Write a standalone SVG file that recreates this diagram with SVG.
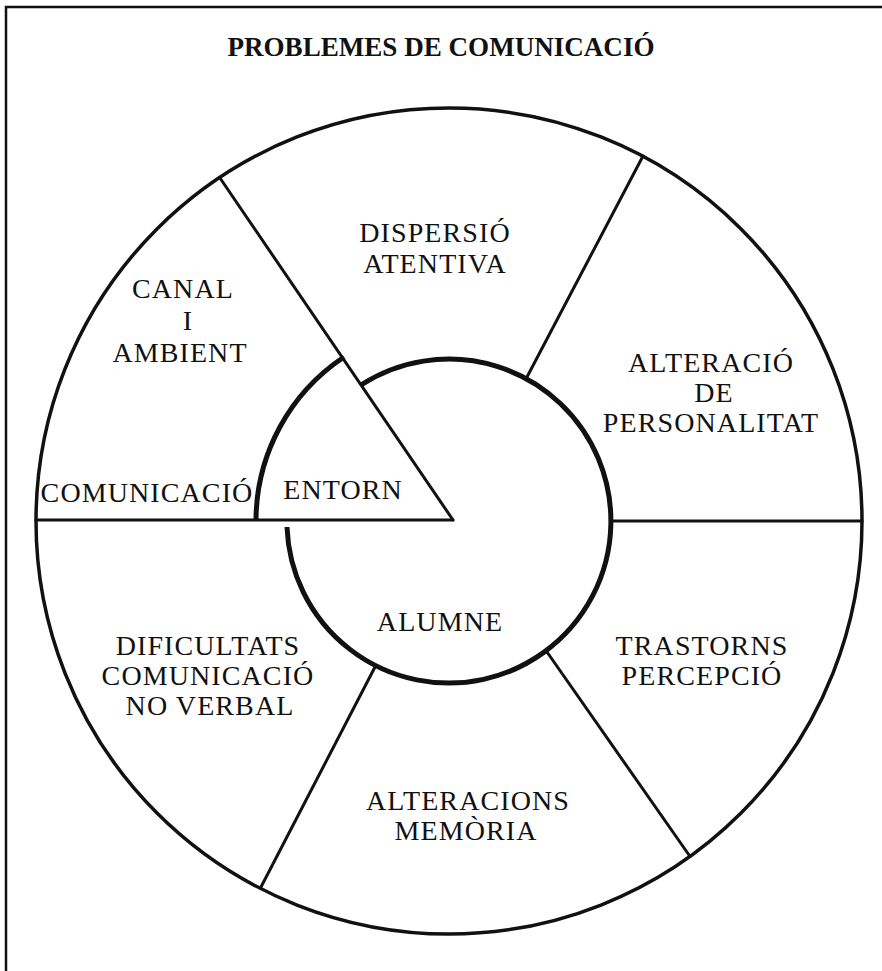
<svg xmlns="http://www.w3.org/2000/svg" width="882" height="971" viewBox="0 0 882 971">
<style>
.t{font-family:"Liberation Serif","Times New Roman",serif;font-size:28px;fill:#111;text-anchor:middle;letter-spacing:1.1px}
.title{font-family:"Liberation Serif","Times New Roman",serif;font-size:28px;font-weight:bold;fill:#111;text-anchor:middle}
.ln{stroke:#111;stroke-width:3;fill:none;stroke-linecap:round}
.thick{stroke:#111;stroke-width:5;fill:none}
.outer{stroke:#111;stroke-width:3.5;fill:none}
</style>
<rect width="882" height="971" fill="#fff"/>
<g id="frame">
<path d="M6,971 V7 H882" stroke="#111" stroke-width="2.5" fill="none"/>
</g>
<g id="title"><text class="title" x="441" y="56" textLength="427" lengthAdjust="spacingAndGlyphs">PROBLEMES DE COMUNICACIÓ</text></g>
<g id="comunicacio">
<circle class="outer" cx="449" cy="521" r="413"/>
<text class="t" x="147" y="502">COMUNICACIÓ</text>
</g>
<g id="alumne">
<path class="thick" d="M361,385 A162,162 0 1 1 287,527"/>
<text class="t" x="440" y="631">ALUMNE</text>
</g>
<g id="entorn">
<path class="thick" d="M344,357 A197,197 0 0 0 256,520"/>
<text class="t" x="343" y="499">ENTORN</text>
</g>
<g id="canal-ambient">
<text class="t" x="183" y="298">CANAL</text>
<text class="t" x="188" y="330">I</text>
<text class="t" x="180" y="362">AMBIENT</text>
</g>
<g id="dispersio">
<text class="t" x="435" y="242">DISPERSIÓ</text>
<text class="t" x="435" y="273">ATENTIVA</text>
</g>
<g id="personalitat">
<text class="t" x="711" y="372">ALTERACIÓ</text>
<text class="t" x="714" y="402">DE</text>
<text class="t" x="711" y="432">PERSONALITAT</text>
</g>
<g id="percepcio">
<text class="t" x="702" y="655">TRASTORNS</text>
<text class="t" x="702" y="685">PERCEPCIÓ</text>
</g>
<g id="memoria">
<text class="t" x="468" y="810">ALTERACIONS</text>
<text class="t" x="466" y="840">MEMÒRIA</text>
</g>
<g id="no-verbal">
<text class="t" x="208" y="655">DIFICULTATS</text>
<text class="t" x="208" y="685">COMUNICACIÓ</text>
<text class="t" x="210" y="715">NO VERBAL</text>
</g>
<g id="connectors">
<line class="ln" x1="36" y1="520" x2="453" y2="520"/>
<line class="ln" x1="453" y1="520" x2="220" y2="178"/>
<line class="ln" x1="527" y1="377" x2="643" y2="156"/>
<line class="ln" x1="611" y1="521" x2="862" y2="521"/>
<line class="ln" x1="547" y1="652" x2="689" y2="855"/>
<line class="ln" x1="375" y1="667" x2="261" y2="887"/>
</g>
</svg>
